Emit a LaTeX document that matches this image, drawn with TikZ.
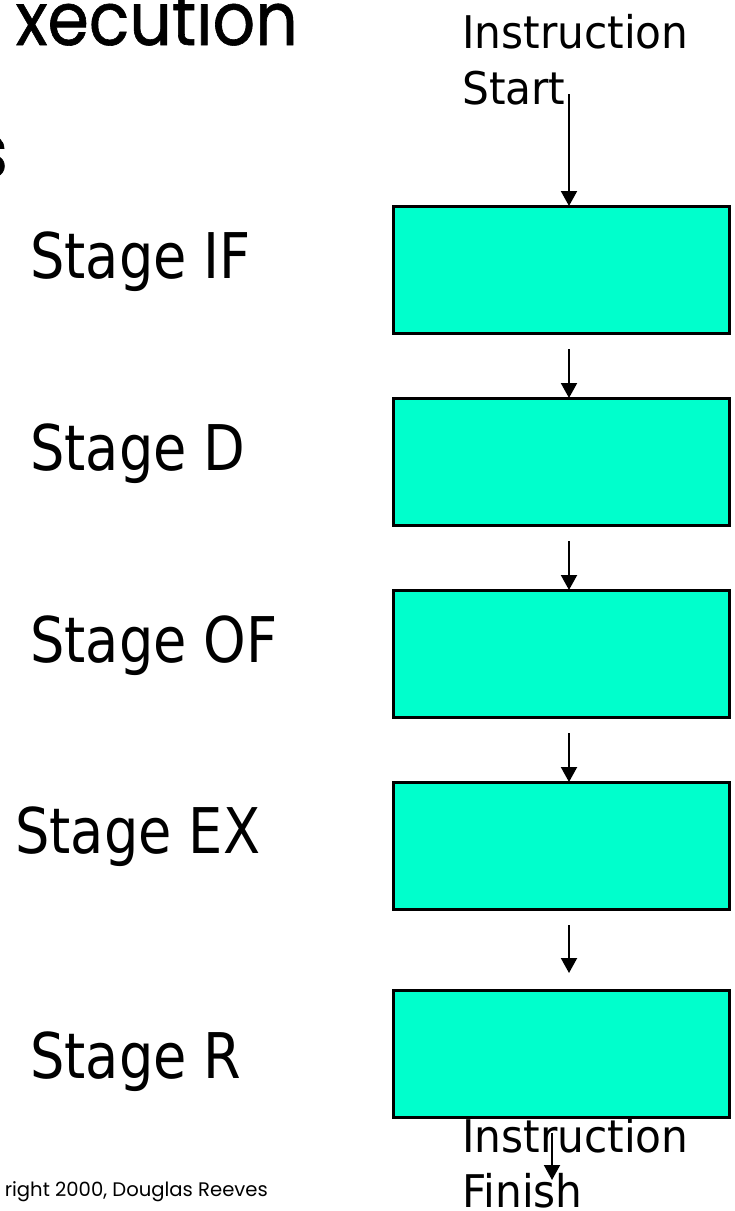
\documentclass[tikz,border=0pt]{standalone}
\usepackage{fontspec}
\usetikzlibrary{arrows.meta}
\newfontfamily\lblfont{DejaVu Sans}[FakeStretch=0.86]
\newfontfamily\insfont{DejaVu Sans}[FakeStretch=0.94]
\newfontfamily\comicfont{Poppins}
\newfontfamily\comictitle{Poppins}[FakeStretch=0.9,FakeBold=0.8]
\definecolor{stagefill}{RGB}{0,255,204}
\tikzset{
  stagebox/.style={draw=black, line width=3pt, fill=stagefill, minimum width=336pt, minimum height=127pt, inner sep=0pt, outer sep=0pt},
  stagelbl/.style={anchor=base west, inner sep=0pt, font=\lblfont\fontsize{63}{70}\selectfont},
  inslbl/.style={anchor=base west, inner sep=0pt, font=\insfont\fontsize{45}{50}\selectfont},
  flow/.style={line width=2pt, -{Triangle[length=15pt,width=16pt]}},
  titlelbl/.style={anchor=base east, inner sep=0pt, font=\comictitle\fontsize{74}{80}\selectfont},
}
\begin{document}
\begin{tikzpicture}[x=1pt,y=-1pt]
\clip (0,0) rectangle (735,1211);
\fill[white] (0,0) rectangle (735,1211);
% title fragments
\node[titlelbl] (title1) at (298,45) {xecution};
\node[titlelbl] (title2) at (8,177) {s};
\node[anchor=base east, inner sep=0pt, font=\comicfont\fontsize{19.6}{24}\selectfont] (copy) at (268,1196) {right 2000, Douglas Reeves};
% instruction labels
\node[inslbl] (insA) at (462,48) {Instruction};
\node[inslbl] (insB) at (462,104) {Start};
\node[inslbl] (finA) at (462,1152) {Instruction};
\node[inslbl] (finB) at (462,1207) {Finish};
% boxes
\node[stagebox] (b1) at (561,269.5) {};
\node[stagebox] (b2) at (561,461.5) {};
\node[stagebox] (b3) at (561,653.5) {};
\node[stagebox] (b4) at (561,845.5) {};
\node[stagebox] (b5) at (561,1053.5) {};
% stage labels
\node[stagelbl] (lIF) at (30,278) {Stage IF};
\node[stagelbl] (lD) at (30,470) {Stage D};
\node[stagelbl] (lOF) at (30,662) {Stage OF};
\node[stagelbl] (lEX) at (15,853) {Stage EX};
\node[stagelbl] (lR) at (30,1078) {Stage R};
% arrow start points
\coordinate (s0) at (569,94);
\coordinate (s1) at (569,349);
\coordinate (s2) at (569,541);
\coordinate (s3) at (569,733);
\coordinate (s4) at (569,925);
\coordinate (e4) at (569,973);
\coordinate (s5) at (552,1133);
\coordinate (e5) at (552,1180);
\draw[flow] (s0) -- (s0 |- b1.north);
\draw[flow] (s1) -- (s1 |- b2.north);
\draw[flow] (s2) -- (s2 |- b3.north);
\draw[flow] (s3) -- (s3 |- b4.north);
\draw[flow] (s4) -- (e4);
\draw[flow] (s5) -- (e5);
\end{tikzpicture}
\end{document}
